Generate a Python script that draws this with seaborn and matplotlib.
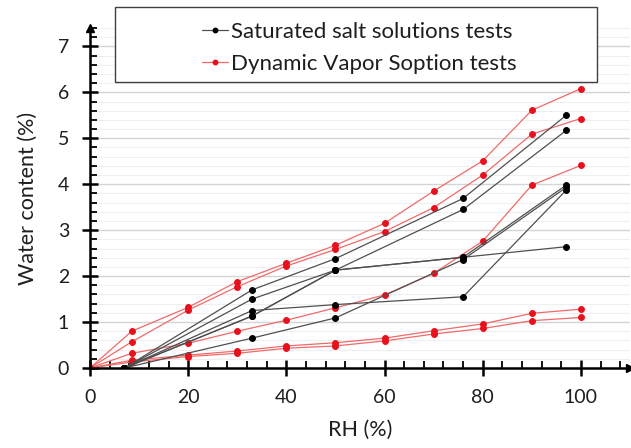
import matplotlib
matplotlib.use("Agg")
import matplotlib.pyplot as plt
import numpy as np
import pandas as pd
import seaborn as sns
from matplotlib.ticker import MultipleLocator, FixedLocator
from matplotlib.lines import Line2D
from matplotlib.patches import Rectangle

# ---- data: Saturated salt solutions tests ----
sss_rh = [7, 33, 50, 76, 97]
sss_1 = [0, 1.70, 2.38, 3.69, 5.50]
sss_2 = [0, 1.50, 2.13, 3.45, 5.17]
sss_3 = [0, 1.25, 1.38, 1.55, 3.87]
sss_4 = [0, 1.13, 2.13, 2.41, 2.64]
sss_5 = [0, 0.65, 1.09, 2.36, 3.93]
sss_6 = [0, 1.13, 2.13, 2.41, 3.98]

# ---- data: Dynamic Vapor Sorption tests ----
dvs_rh = [0, 8.5, 20, 30, 40, 50, 60, 70, 80, 90, 100]
dvs_1 = [0, 0.80, 1.32, 1.88, 2.28, 2.67, 3.15, 3.85, 4.51, 5.61, 6.08]
dvs_2 = [0, 0.57, 1.26, 1.77, 2.22, 2.58, 2.97, 3.49, 4.20, 5.09, 5.43]
dvs_3 = [0, 0.32, 0.54, 0.80, 1.04, 1.31, 1.59, 2.06, 2.76, 3.98, 4.41]
dvs_4 = [0, 0.17, 0.28, 0.37, 0.48, 0.55, 0.65, 0.81, 0.96, 1.19, 1.28]
dvs_5 = [0, 0.13, 0.25, 0.32, 0.43, 0.48, 0.59, 0.74, 0.86, 1.03, 1.10]

legend_labels = ["Saturated salt solutions tests", "Dynamic Vapor Soption tests"]

rows = []
for i, s in enumerate([sss_1, sss_2, sss_3, sss_4, sss_5, sss_6]):
    for x, y in zip(sss_rh, s):
        rows.append(("sss", f"s{i}", x, y))
for i, s in enumerate([dvs_1, dvs_2, dvs_3, dvs_4, dvs_5]):
    for x, y in zip(dvs_rh, s):
        rows.append(("dvs", f"d{i}", x, y))
df = pd.DataFrame(rows, columns=["test", "run", "RH", "WC"])

sns.set_theme(style="white")
plt.rcParams["font.family"] = ["Lato", "DejaVu Sans"]

fig = plt.figure(figsize=(6.31, 4.48), dpi=100)
ax = fig.add_axes([90 / 631, 80 / 448, 540 / 631, 340 / 448])

# grid
ax.set_axisbelow(True)
ax.grid(False)

# lines
sns.lineplot(data=df[df.test == "dvs"], x="RH", y="WC", units="run", estimator=None,
             sort=False, color="#f06a6a", lw=0.9, marker="o", markersize=4.2,
             markerfacecolor="#e8101c", markeredgecolor="#e8101c", ax=ax, legend=False)
sns.lineplot(data=df[df.test == "sss"], x="RH", y="WC", units="run", estimator=None,
             sort=False, color="#505050", lw=0.9, marker="o", markersize=4.2,
             markerfacecolor="black", markeredgecolor="black", ax=ax, legend=False)

ax.set_xlim(0, 110)
ax.set_ylim(0, 7.4)
ax.set_xticks([0, 20, 40, 60, 80, 100])
ax.set_yticks(range(0, 8))
ax.yaxis.set_minor_locator(MultipleLocator(0.2))
ax.xaxis.set_minor_locator(FixedLocator(np.arange(4, 109, 4)))
ax.yaxis.grid(True, which="major", color="#d4d4d4", lw=1.0)
ax.yaxis.grid(True, which="minor", color="#efefef", lw=0.8)

for s in ["top", "right"]:
    ax.spines[s].set_visible(False)
for s in ["left", "bottom"]:
    ax.spines[s].set_color("black")
    ax.spines[s].set_linewidth(1.8)

ax.tick_params(axis="both", which="major", direction="inout", length=12, width=1.8,
               color="black", labelsize=14, labelcolor="#1e1e1e")
ax.tick_params(axis="both", which="minor", direction="in", length=5, width=1.3, color="black")
ax.tick_params(axis="y", which="major", pad=9)
ax.tick_params(axis="x", which="major", pad=9)
ax.tick_params(left=True, bottom=True, which="both")

# arrowheads
ax.plot(1, 0, marker=">", color="black", ms=6, transform=ax.transAxes, clip_on=False)
ax.plot(0, 1, marker="^", color="black", ms=6, transform=ax.transAxes, clip_on=False)

ax.set_xlabel("RH (%)", fontsize=15.5, color="#1e1e1e", labelpad=10)
ax.set_ylabel("Water content (%)", fontsize=15.5, color="#1e1e1e", labelpad=14)

# legend box
fig.patches.append(Rectangle((115 / 631, 1 - 82 / 448), (597 - 115) / 631, 75 / 448,
                             transform=fig.transFigure, facecolor="white",
                             edgecolor="#404040", lw=1.0, zorder=5))
handles = [
    Line2D([], [], color="#505050", lw=0.9, marker="o", ms=3.2, mfc="black", mec="black"),
    Line2D([], [], color="#f06a6a", lw=0.9, marker="o", ms=3.2, mfc="#e8101c", mec="#e8101c"),
]
leg = fig.legend(handles, legend_labels, loc="upper left",
                 bbox_to_anchor=(186 / 631, 1 - 6 / 448), frameon=False,
                 fontsize=16, handlelength=1.2, handletextpad=0.12, labelspacing=0.55,
                 borderpad=0.2)
leg.set_zorder(6)
for t in leg.get_texts():
    t.set_color("#1e1e1e")

fig.savefig("out.png", dpi=100)
